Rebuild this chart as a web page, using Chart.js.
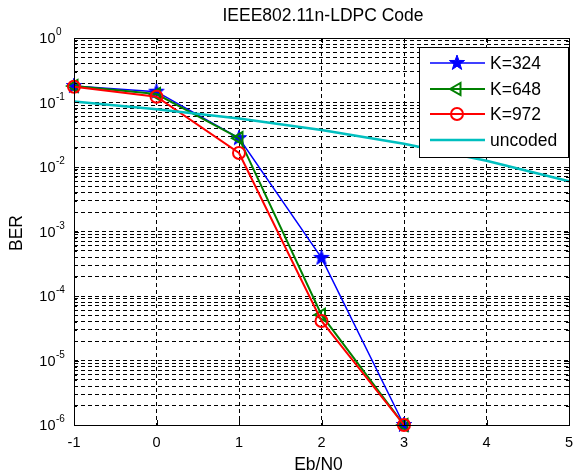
<!DOCTYPE html>
<html><head><meta charset="utf-8">
<script src="https://cdn.jsdelivr.net/npm/chart.js@4"></script>
<style>html,body{margin:0;padding:0;background:#fff}#wrap{width:578px;height:474px}</style>
</head><body><div id="wrap"><canvas id="c"></canvas></div>
<script>
const titleText = 'IEEE802.11n-LDPC Code';
const xLabel = 'Eb/N0';
const yLabel = 'BER';
const ebn0 = [-1, 0, 1, 2, 3];
const berK324 = [0.18, 0.147, 0.028, 3.9e-4, 1e-6];
const berK648 = [0.18, 0.135, 0.028, 5.1e-5, 1e-6];
const berK972 = [0.175, 0.123, 0.0165, 4.1e-5, 1e-6];
const ebn0Uncoded = [-1, 0, 1, 2, 3, 4, 5];
const berUncoded = [0.104, 0.0786, 0.0563, 0.0375, 0.0229, 0.0125, 0.006];
const xTicks = [-1, 0, 1, 2, 3, 4, 5];
const yDecades = [0, -1, -2, -3, -4, -5, -6];
const seriesNames = ['K=324', 'K=648', 'K=972', 'uncoded'];

const FONT = '"Liberation Sans", Arial, sans-serif';

function makeStar(color, R) {
  const c = document.createElement('canvas');
  const s = Math.ceil(R * 2 + 2);
  c.width = s; c.height = s;
  const g = c.getContext('2d');
  const cx = s / 2, cy = s / 2, r = R * 0.4;
  g.beginPath();
  for (let i = 0; i < 10; i++) {
    const a = -Math.PI / 2 + i * Math.PI / 5;
    const rr = i % 2 === 0 ? R : r;
    const px = cx + rr * Math.cos(a), py = cy + rr * Math.sin(a);
    i === 0 ? g.moveTo(px, py) : g.lineTo(px, py);
  }
  g.closePath();
  g.fillStyle = color; g.fill();
  g.strokeStyle = color; g.lineWidth = 1; g.stroke();
  return c;
}
const starImg = makeStar('#0000ff', 8);

const yTickVals = [];
for (let d = -6; d <= 0; d++) {
  for (let m = 1; m <= 9; m++) {
    if (d === 0 && m > 1) break;
    yTickVals.push(m * Math.pow(10, d));
  }
}

const toPts = (xs, ys) => xs.map((x, i) => ({x: x, y: ys[i]}));

const decor = {
  id: 'decor',
  afterDatasetsDraw(chart) {
    const {ctx, chartArea: a, scales: {x, y}} = chart;
    ctx.save();
    ctx.strokeStyle = '#000'; ctx.lineWidth = 1; ctx.setLineDash([]);
    ctx.strokeRect(Math.round(a.left) + 0.5, Math.round(a.top) + 0.5, Math.round(a.right - a.left), Math.round(a.bottom - a.top));
    ctx.beginPath();
    yTickVals.forEach(v => {
      const py = Math.round(y.getPixelForValue(v)) + 0.5;
      const major = Math.abs(Math.log10(v) - Math.round(Math.log10(v))) < 1e-9;
      const L = major ? 5 : 3;
      ctx.moveTo(a.left, py); ctx.lineTo(a.left + L, py);
      ctx.moveTo(a.right, py); ctx.lineTo(a.right - L, py);
    });
    xTicks.forEach(v => {
      const px = Math.round(x.getPixelForValue(v)) + 0.5;
      ctx.moveTo(px, a.bottom); ctx.lineTo(px, a.bottom - 5);
      ctx.moveTo(px, a.top); ctx.lineTo(px, a.top + 5);
    });
    ctx.stroke();
    ctx.restore();
  },
  afterDraw(chart) {
    const {ctx, chartArea: a, scales: {x, y}} = chart;
    const ds = chart.data.datasets;
    ctx.save();
    ctx.fillStyle = '#000';
    ctx.font = '17.5px ' + FONT;
    ctx.textAlign = 'center'; ctx.textBaseline = 'alphabetic';
    ctx.fillText(titleText, (a.left + a.right) / 2 + 1.5, 21);
    ctx.fillText(xLabel, (a.left + a.right) / 2 - 3, 470);
    ctx.save();
    ctx.translate(22, 233);
    ctx.rotate(-Math.PI / 2);
    ctx.fillText(yLabel, 0, 0);
    ctx.restore();
    ctx.font = '14.5px ' + FONT;
    ctx.textAlign = 'center';
    xTicks.forEach(v => {
      ctx.fillText(String(v), x.getPixelForValue(v), 447);
    });
    yDecades.forEach(d => {
      const py = y.getPixelForValue(Math.pow(10, d));
      ctx.font = '14.5px ' + FONT;
      ctx.textAlign = 'right';
      ctx.fillText('10', 55.5, py + 5);
      ctx.font = '10px ' + FONT;
      ctx.textAlign = 'left';
      ctx.fillText(String(d), 56, py - 3);
    });
    // legend
    const bx = 419.5, by = 47.5, bw = 149, bh = 110;
    ctx.fillStyle = '#fff';
    ctx.fillRect(bx, by, bw, bh);
    ctx.strokeStyle = '#000'; ctx.lineWidth = 1; ctx.setLineDash([]);
    ctx.strokeRect(bx, by, bw, bh);
    const rows = [63, 89, 114, 140];
    ds.forEach((d, i) => {
      const ry = rows[i];
      ctx.strokeStyle = d.borderColor; ctx.lineWidth = d.borderWidth;
      ctx.beginPath(); ctx.moveTo(430, ry); ctx.lineTo(485, ry); ctx.stroke();
      if (d.pointStyle && d.pointRadius > 0) {
        ctx.strokeStyle = d.pointBorderColor;
        ctx.lineWidth = d.pointBorderWidth;
        ctx.fillStyle = '#fff';
        if (d.pointStyle instanceof HTMLCanvasElement) {
          ctx.drawImage(d.pointStyle, 457 - d.pointStyle.width / 2, ry - d.pointStyle.height / 2);
        } else if (d.pointStyle === 'circle') {
          ctx.beginPath();
          ctx.arc(457, ry, d.pointRadius, 0, Math.PI * 2);
          ctx.stroke();
        } else if (d.pointStyle === 'triangle') {
          const r = d.pointRadius;
          ctx.beginPath();
          ctx.moveTo(457 - r, ry);
          ctx.lineTo(457 + r * 0.5, ry - r * 0.866);
          ctx.lineTo(457 + r * 0.5, ry + r * 0.866);
          ctx.closePath();
          ctx.stroke();
        }
      }
      ctx.fillStyle = '#000';
      ctx.font = '17.5px ' + FONT;
      ctx.textAlign = 'left';
      ctx.fillText(d.label, 490, ry + 6);
    });
    ctx.restore();
  }
};

new Chart(document.getElementById('c'), {
  type: 'line',
  data: {
    datasets: [
      {label: seriesNames[0], data: toPts(ebn0, berK324), borderColor: '#0000ff', borderWidth: 1.5,
       pointStyle: starImg, pointRadius: 8, pointBackgroundColor: '#0000ff', pointBorderColor: '#0000ff', pointBorderWidth: 1, order: 4},
      {label: seriesNames[1], data: toPts(ebn0, berK648), borderColor: '#008000', borderWidth: 2,
       pointStyle: 'triangle', pointRotation: -90, pointRadius: 7, pointBackgroundColor: 'rgba(0,0,0,0)', pointBorderColor: '#008000', pointBorderWidth: 2, order: 3},
      {label: seriesNames[2], data: toPts(ebn0, berK972), borderColor: '#ff0000', borderWidth: 2,
       pointStyle: 'circle', pointRadius: 6, pointBackgroundColor: 'rgba(0,0,0,0)', pointBorderColor: '#ff0000', pointBorderWidth: 2, order: 2},
      {label: seriesNames[3], data: toPts(ebn0Uncoded, berUncoded), borderColor: '#00bfbf', borderWidth: 2.5,
       pointRadius: 0, order: 1}
    ]
  },
  options: {
    responsive: true, maintainAspectRatio: false, animation: false, devicePixelRatio: 1,
    layout: {padding: {left: 74, top: 38, right: 3, bottom: 49}},
    elements: {line: {tension: 0, fill: false}},
    datasets: {line: {clip: false}},
    plugins: {legend: {display: false}, title: {display: false}, tooltip: {enabled: false}},
    scales: {
      x: {type: 'linear', min: -1, max: 5,
          afterBuildTicks: s => { s.ticks = xTicks.map(v => ({value: v})); },
          afterFit: s => { s.height = 0; },
          ticks: {display: false},
          grid: {color: '#000', lineWidth: 1, drawTicks: false},
          border: {display: false, dash: [4, 3]}},
      y: {type: 'logarithmic', min: 1e-6, max: 1,
          afterBuildTicks: s => { s.ticks = yTickVals.map(v => ({value: v})); },
          afterFit: s => { s.width = 0; },
          ticks: {display: false},
          grid: {color: '#000', lineWidth: 1, drawTicks: false},
          border: {display: false, dash: [4, 3]}}
    }
  },
  plugins: [decor]
});
</script>
</body></html>
